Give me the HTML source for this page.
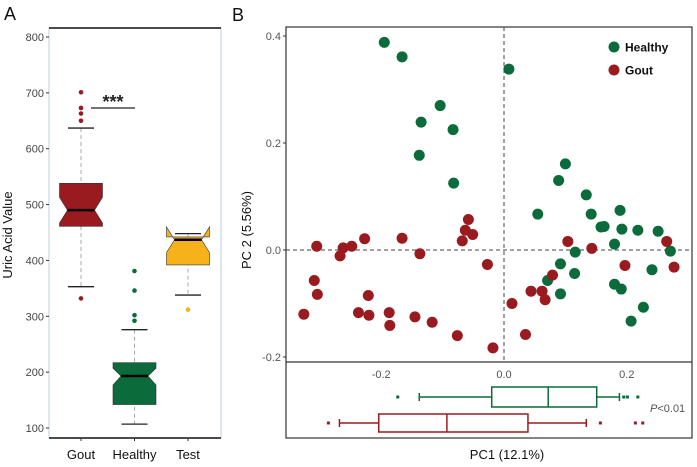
<!DOCTYPE html>
<html><head><meta charset="utf-8"><style>
body{margin:0;background:#fff;}
svg{display:block;font-family:"Liberation Sans",Arial,sans-serif;}
</style></head><body>
<svg id="chart" width="697" height="467" viewBox="0 0 697 467"></svg>
<script>
// Panel A data
const aCategories=["Gout","Healthy","Test"];
const aQ1=[461,142,392];
const aMedian=[490,193,437];
const aQ3=[538,217,442];
const aWhiskLow=[353,107,338];
const aWhiskHigh=[637,276,448];
const aNotchLow=[467,177,414];
const aNotchHigh=[513,207,460];
const aOutliers=[[701,673,663,650,332],[381,346,302,292],[312]];
const aTicks=[100,200,300,400,500,600,700,800];
// Panel B data
const healthyX=[-0.195,-0.166,0.008,-0.104,-0.135,-0.083,-0.138,-0.082,0.100,0.089,0.134,0.055,0.142,0.158,0.163,0.189,0.192,0.218,0.251,0.180,0.271,0.116,0.092,0.115,0.071,0.092,0.180,0.191,0.241,0.227,0.207];
const healthyY=[0.388,0.361,0.338,0.270,0.239,0.225,0.177,0.125,0.161,0.130,0.103,0.067,0.067,0.043,0.044,0.074,0.039,0.037,0.035,0.011,-0.002,-0.004,-0.026,-0.044,-0.057,-0.082,-0.064,-0.073,-0.037,-0.107,-0.133];
const goutX=[-0.305,-0.267,-0.262,-0.248,-0.227,-0.166,-0.137,-0.058,-0.063,-0.051,-0.068,-0.027,-0.309,-0.304,-0.326,-0.237,-0.220,-0.221,-0.187,-0.186,-0.145,-0.117,-0.076,-0.018,0.013,0.035,0.044,0.062,0.067,0.079,0.104,0.143,0.197,0.265,0.277];
const goutY=[0.007,-0.011,0.004,0.007,0.021,0.022,-0.007,0.057,0.037,0.029,0.017,-0.027,-0.057,-0.083,-0.120,-0.117,-0.122,-0.085,-0.117,-0.141,-0.125,-0.135,-0.160,-0.183,-0.100,-0.158,-0.077,-0.077,-0.093,-0.047,0.016,0.003,-0.029,0.016,-0.032];
const bXTicks=[-0.2,0.0,0.2];
const bYTicks=[-0.2,0.0,0.2,0.4];
const bXTickLabels=["-0.2","0.0","0.2"];
const bYTickLabels=["-0.2","0.0","0.2","0.4"];
const pcBoxGroups=["Healthy","Gout"];
const pcQ1=[-0.020,-0.204];
const pcMed=[0.072,-0.093];
const pcQ3=[0.151,0.039];
const pcLo=[-0.138,-0.268];
const pcHi=[0.188,0.134];
const pcOut=[[-0.173,0.195,0.201,0.218],[-0.286,0.157,0.214,0.226]];

const NS="http://www.w3.org/2000/svg";
const svg=document.getElementById('chart');
function mk(tag,attrs,parent,text){const e=document.createElementNS(NS,tag);for(const k in attrs)e.setAttribute(k,attrs[k]);if(text!==undefined)e.textContent=text;(parent||svg).appendChild(e);return e;}

const RED="#9a1b1f",GREEN="#0b6b3b",YEL="#f7b11b";
const colsA=[RED,GREEN,YEL];
// ---- Panel A ----
const ayS=v=>428-(v-100)*391/700;
const axS=i=>81+i*53.5;
let e;
e=mk('text',{x:4,y:20,'font-size':18,fill:'#111'},svg,'A');

e=mk('rect',{x:49,y:28,width:172,height:410,fill:'none',stroke:'#bcd0d8','stroke-width':1});

mk('line',{x1:49,y1:28,x2:221,y2:28,stroke:'#111','stroke-width':1.5});
mk('line',{x1:49,y1:438,x2:221,y2:438,stroke:'#111','stroke-width':1.5});
aTicks.forEach(t=>{
  mk('line',{x1:46,x2:49,y1:ayS(t),y2:ayS(t),stroke:'#333'});
  e=mk('text',{x:44,y:ayS(t)+4,'font-size':11,fill:'#444','text-anchor':'end'},svg,String(t));
  
});
e=mk('text',{x:0,y:0,'font-size':13,fill:'#111','text-anchor':'middle',transform:'translate(12,235) rotate(-90)'},svg,'Uric Acid Value');

aCategories.forEach((c,i)=>{
  const cx=axS(i),hw=21.5,nw=8;
  mk('line',{x1:cx,x2:cx,y1:ayS(aWhiskHigh[i]),y2:ayS(aWhiskLow[i]),stroke:'#aab','stroke-dasharray':'4,3'});
  const g=mk('g',{});
  
  const t=ayS(aQ3[i]),b=ayS(aQ1[i]),nt=ayS(aNotchHigh[i]),nb=ayS(aNotchLow[i]),m=ayS(aMedian[i]);
  const pts=[[cx-hw,t],[cx+hw,t],[cx+hw,nt],[cx+hw-nw,m],[cx+hw,nb],[cx+hw,b],[cx-hw,b],[cx-hw,nb],[cx-hw+nw,m],[cx-hw,nt]];
  mk('polygon',{points:pts.map(p=>p.join(',')).join(' '),fill:colsA[i],stroke:'#333','stroke-width':0.6},g);
  mk('line',{x1:cx-hw+nw,x2:cx+hw-nw,y1:m,y2:m,stroke:'#000','stroke-width':2.5},g);
  mk('line',{x1:cx-13,x2:cx+13,y1:ayS(aWhiskHigh[i]),y2:ayS(aWhiskHigh[i]),stroke:'#222','stroke-width':1.3},g);
  mk('line',{x1:cx-13,x2:cx+13,y1:ayS(aWhiskLow[i]),y2:ayS(aWhiskLow[i]),stroke:'#222','stroke-width':1.3},g);
  aOutliers[i].forEach(o=>{e=mk('circle',{cx:cx,cy:ayS(o),r:2.3,fill:colsA[i]},g);
    });
  mk('line',{x1:cx,x2:cx,y1:438,y2:441,stroke:'#333'});
  e=mk('text',{x:cx,y:459,'font-size':13,fill:'#111','text-anchor':'middle'},svg,c);
  
});
e=mk('line',{x1:91,x2:135,y1:108,y2:108,stroke:'#222','stroke-width':1.3});

e=mk('text',{x:113,y:108,'font-size':18,fill:'#222','text-anchor':'middle','font-weight':'bold'},svg,'***');


// ---- Panel B ----
const bx=v=>504+v*614;
const by=v=>250-v*535;
e=mk('text',{x:232,y:21,'font-size':18,fill:'#111'},svg,'B');

e=mk('rect',{x:286,y:27,width:406,height:411,fill:'none',stroke:'#333','stroke-width':1.2});

mk('line',{x1:286,x2:692,y1:362,y2:362,stroke:'#333','stroke-width':1.2});
mk('line',{x1:bx(0),x2:bx(0),y1:27,y2:362,stroke:'#444','stroke-dasharray':'4,3'});
mk('line',{x1:286,x2:692,y1:by(0),y2:by(0),stroke:'#444','stroke-dasharray':'4,3'});
bYTicks.forEach((t,i)=>{
  mk('line',{x1:283,x2:286,y1:by(t),y2:by(t),stroke:'#333'});
  e=mk('text',{x:281,y:by(t)+4,'font-size':11,fill:'#555','text-anchor':'end'},svg,bYTickLabels[i]);
  
});
bXTicks.forEach((t,i)=>{
  e=mk('text',{x:bx(t),y:378,'font-size':11,fill:'#555','text-anchor':'middle'},svg,bXTickLabels[i]);
  
});
e=mk('text',{x:0,y:0,'font-size':13,fill:'#111','text-anchor':'middle',transform:'translate(251,230) rotate(-90)'},svg,'PC 2 (5.56%)');

e=mk('text',{x:507,y:459,'font-size':13,fill:'#111','text-anchor':'middle'},svg,'PC1 (12.1%)');

healthyX.forEach((x,i)=>{e=mk('circle',{cx:bx(x),cy:by(healthyY[i]),r:5.5,fill:GREEN});
  });
goutX.forEach((x,i)=>{e=mk('circle',{cx:bx(x),cy:by(goutY[i]),r:5.5,fill:RED});
  });
// legend
const lg=mk('g',{});
[["Healthy",GREEN,47],["Gout",RED,70]].forEach(l=>{
  const g=mk('g',{},lg);
  mk('circle',{cx:614,cy:l[2],r:5.5,fill:l[1]},g);
  mk('text',{x:625,y:l[2]+4.5,'font-size':12,'font-weight':'bold',fill:'#111'},g,l[0]);
});
// marginal boxplots
const pcY=[397,423],pcH=[20,18],pcC=[GREEN,RED];
pcBoxGroups.forEach((gname,i)=>{
  const g=mk('g',{});
  const y=pcY[i],h=pcH[i],c=pcC[i];
  mk('line',{x1:bx(pcLo[i]),x2:bx(pcQ1[i]),y1:y,y2:y,stroke:c,'stroke-width':1.5},g);
  mk('line',{x1:bx(pcQ3[i]),x2:bx(pcHi[i]),y1:y,y2:y,stroke:c,'stroke-width':1.5},g);
  mk('line',{x1:bx(pcLo[i]),x2:bx(pcLo[i]),y1:y-4,y2:y+4,stroke:c,'stroke-width':1.5},g);
  mk('line',{x1:bx(pcHi[i]),x2:bx(pcHi[i]),y1:y-4,y2:y+4,stroke:c,'stroke-width':1.5},g);
  mk('rect',{x:bx(pcQ1[i]),y:y-h/2,width:bx(pcQ3[i])-bx(pcQ1[i]),height:h,fill:'#fff',stroke:c,'stroke-width':1.5},g);
  mk('line',{x1:bx(pcMed[i]),x2:bx(pcMed[i]),y1:y-h/2,y2:y+h/2,stroke:c,'stroke-width':1.5},g);
  pcOut[i].forEach(o=>mk('rect',{x:bx(o)-1.5,y:y-1.5,width:3,height:3,fill:c},g));
});
e=mk('text',{x:650,y:412,'font-size':11,fill:'#555'},svg,'');

mk('tspan',{'font-style':'italic'},e,'P');mk('tspan',{},e,'<0.01');
</script>
</body></html>
